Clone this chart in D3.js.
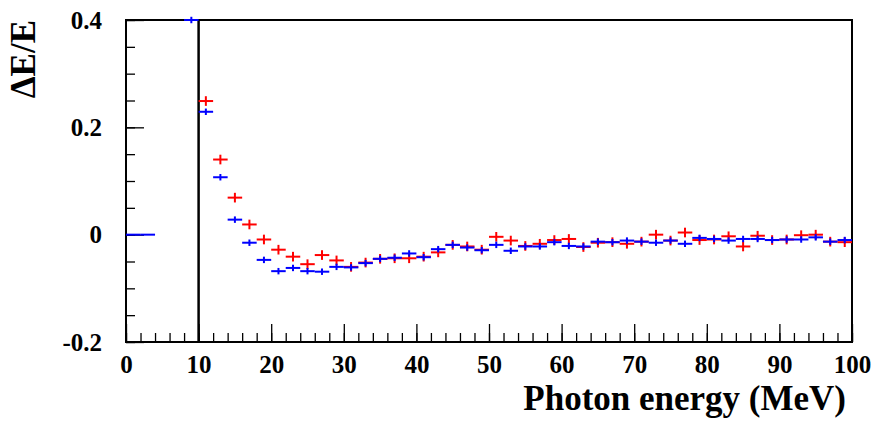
<!DOCTYPE html>
<html>
<head>
<meta charset="utf-8">
<script src="https://cdn.jsdelivr.net/npm/d3@7"></script>
<style>
  body { margin: 0; background: #fff; }
  text { font-family: "Liberation Serif", "Times New Roman", serif; font-weight: bold; fill: #000; }
</style>
</head>
<body>
<svg id="chart" width="875" height="422"></svg>
<script>
// bin centres (2 MeV wide bins)
var binCenters = [11, 13, 15, 17, 19, 21, 23, 25, 27, 29, 31, 33, 35, 37, 39, 41, 43, 45, 47, 49,
  51, 53, 55, 57, 59, 61, 63, 65, 67, 69, 71, 73, 75, 77, 79, 81, 83, 85, 87, 89, 91, 93, 95, 97, 99];

var redValues = [0.249, 0.140, 0.069, 0.019, -0.009, -0.028, -0.041, -0.055, -0.038, -0.048,
  -0.060, -0.052, -0.045, -0.044, -0.044, -0.041, -0.033, -0.019, -0.022, -0.028,
  -0.004, -0.011, -0.021, -0.017, -0.010, -0.008, -0.023, -0.015, -0.014, -0.017,
  -0.013, 0.000, -0.011, 0.004, -0.010, -0.009, -0.003, -0.022, -0.002, -0.010,
  -0.009, -0.001, 0.000, -0.013, -0.014];

var blueValues = [0.229, 0.107, 0.028, -0.015, -0.047, -0.068, -0.062, -0.068, -0.069, -0.060,
  -0.061, -0.053, -0.045, -0.043, -0.035, -0.042, -0.027, -0.019, -0.024, -0.029,
  -0.019, -0.030, -0.022, -0.022, -0.014, -0.021, -0.022, -0.013, -0.014, -0.011,
  -0.013, -0.015, -0.011, -0.017, -0.006, -0.008, -0.011, -0.008, -0.008, -0.010,
  -0.009, -0.009, -0.005, -0.013, -0.010];

// extra blue bins below 10 MeV
var blueLowCenters = [1, 3, 9];
var blueLowValues = [0, 0, 0.4];
var blueLowErrors = [0, 0, 0.006];

var redError = 0.009;
var blueError = 0.006;
var binHalfWidth = 1;

var xTicks = [0, 10, 20, 30, 40, 50, 60, 70, 80, 90, 100];
var yTicks = [-0.2, 0, 0.2, 0.4];
var yTickLabels = ['-0.2', '0', '0.2', '0.4'];

var margin = {left: 126, top: 20, right: 23, bottom: 80};
var width = 875 - margin.left - margin.right;
var height = 422 - margin.top - margin.bottom;

var svg = d3.select('#chart');
var g = svg.append('g').attr('transform', 'translate(' + margin.left + ',' + margin.top + ')');

var x = d3.scaleLinear().domain([0, 100]).range([0, width]);
var y = d3.scaleLinear().domain([-0.2, 0.4]).range([height, 0]);

// minor ticks
g.append('g')
  .attr('class', 'axis')
  .attr('transform', 'translate(0,' + height + ')')
  .call(d3.axisBottom(x).tickValues(d3.range(0, 101, 2)).tickSize(-9).tickFormat(''));
g.append('g')
  .attr('class', 'axis')
  .call(d3.axisLeft(y).tickValues(d3.range(-0.2, 0.401, 0.05)).tickSize(-9).tickFormat(''));

// major ticks + labels
g.append('g')
  .attr('class', 'axis')
  .attr('transform', 'translate(0,' + height + ')')
  .call(d3.axisBottom(x).tickValues(xTicks).tickSize(-18).tickPadding(13).tickFormat(d3.format('d')));
g.append('g')
  .attr('class', 'axis')
  .call(d3.axisLeft(y).tickValues(yTicks).tickSize(-18).tickPadding(24)
    .tickFormat(function(d, i) { return yTickLabels[i]; }));

g.selectAll('.axis path.domain').remove();
g.selectAll('.axis').attr('font-family', null).attr('font-size', null);
g.selectAll('.axis line').attr('stroke', '#000').attr('stroke-width', 1.3);
g.selectAll('.axis text')
  .style('font-family', '"Liberation Serif", "Times New Roman", serif')
  .style('font-weight', 'bold')
  .style('font-size', '25px')
  .attr('fill', '#000');

// frame
g.append('rect')
  .attr('x', 0).attr('y', 0)
  .attr('width', width).attr('height', height)
  .attr('fill', 'none').attr('stroke', '#000').attr('stroke-width', 2);

// line at 10 MeV
g.append('line')
  .attr('x1', x(10)).attr('x2', x(10))
  .attr('y1', 0).attr('y2', height)
  .attr('stroke', '#000').attr('stroke-width', 2.5);

function drawPoints(centers, values, errors, color) {
  var pts = centers.map(function(c, i) { return {x: c, y: values[i], e: errors[i]}; });
  var p = g.append('g').selectAll('g').data(pts).join('g');
  p.append('line')
    .attr('x1', function(d) { return x(d.x - binHalfWidth); })
    .attr('x2', function(d) { return x(d.x + binHalfWidth); })
    .attr('y1', function(d) { return y(d.y); })
    .attr('y2', function(d) { return y(d.y); })
    .attr('stroke', color).attr('stroke-width', 2);
  p.append('line')
    .attr('x1', function(d) { return x(d.x); })
    .attr('x2', function(d) { return x(d.x); })
    .attr('y1', function(d) { return y(d.y - d.e); })
    .attr('y2', function(d) { return y(d.y + d.e); })
    .attr('stroke', color).attr('stroke-width', 2);
}

drawPoints(binCenters, redValues, binCenters.map(function() { return redError; }), '#ff0000');
drawPoints(binCenters, blueValues, binCenters.map(function() { return blueError; }), '#0000ff');
drawPoints(blueLowCenters, blueLowValues, blueLowErrors, '#0000ff');

// axis titles
svg.append('text')
  .attr('x', 846)
  .attr('y', 410)
  .attr('text-anchor', 'end')
  .style('font-size', '35px')
  .text('Photon energy (MeV)');

svg.append('text')
  .attr('transform', 'translate(35,20) rotate(-90)')
  .attr('text-anchor', 'end')
  .style('font-size', '35px')
  .text('ΔE/E');
</script>
</body>
</html>
